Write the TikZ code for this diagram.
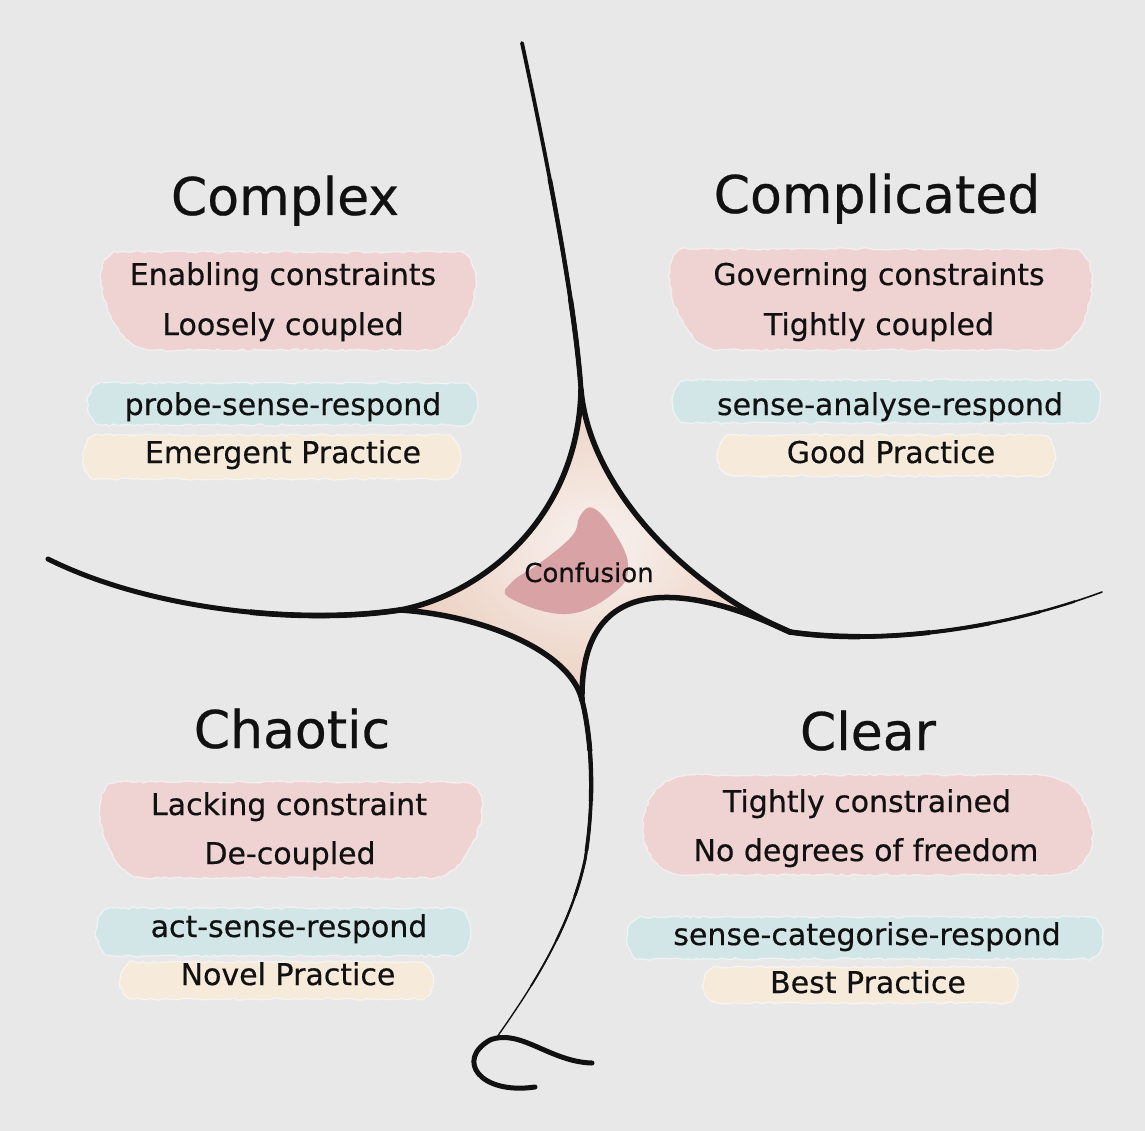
\documentclass[tikz,border=0pt]{standalone}
\usepackage{fontspec}
\setmainfont{DejaVu Sans}
\newfontfamily\handfont{DejaVu Sans}[FakeBold=0.5]
\usetikzlibrary{decorations.pathmorphing}
\definecolor{bgc}{HTML}{E8E8E8}
\definecolor{pinkc}{HTML}{EFD2D2}
\definecolor{bluec}{HTML}{D2E6E8}
\definecolor{creamc}{HTML}{F6EADB}
\definecolor{confin}{HTML}{F8F2EF}
\definecolor{confout}{HTML}{ECD0C1}
\definecolor{confpink}{HTML}{D9A2A5}
\definecolor{inkc}{HTML}{111111}
\newcommand\myblob[8]{%
  \path[brushfill, fill=#1] (#2,#6) -- (#3,#6) .. controls ({#3+#8},#6) and ({#5+#8},#7) .. (#5,#7) -- (#4,#7) .. controls ({#4-#8},#7) and ({#2-#8},#6) .. cycle;}
\begin{document}
\begin{tikzpicture}[x=1pt,y=-1pt,
  ink/.style={line width=#1, line cap=round, line join=round, draw=inkc},
  brushfill/.style={decorate, decoration={random steps, segment length=4pt, amplitude=1.1pt}, draw=white, draw opacity=0.5, line width=1.3pt},
  titletext/.style={font=\handfont\fontsize{52}{60}\selectfont, text=inkc, anchor=base, inner sep=0pt},
  bodytext/.style={font=\handfont\fontsize{30}{36}\selectfont, text=inkc, anchor=base, inner sep=0pt},
  conftext/.style={font=\handfont\fontsize{26}{30}\selectfont, text=inkc, anchor=base, inner sep=0pt}]
\pgfmathsetseed{7}
\fill[bgc] (0,0) rectangle (1145,1131);
\useasboundingbox (0,0) rectangle (1145,1131);

% ---------- brush highlights ----------
% Complex
\myblob{pinkc}{120}{455}{150}{430}{252}{350}{40}
\myblob{bluec}{103}{462}{103}{462}{383}{425}{20}
\myblob{creamc}{98}{445}{98}{445}{435}{479}{20}
% Complicated
\myblob{pinkc}{688}{1070}{718}{1050}{249}{350}{40}
\myblob{bluec}{688}{1085}{688}{1085}{380}{423}{20}
\myblob{creamc}{733}{1040}{733}{1040}{435}{476}{20}
% Chaotic
\myblob{pinkc}{120}{463}{144}{433}{782}{878}{40}
\myblob{bluec}{113}{454}{113}{454}{908}{956}{22}
\myblob{creamc}{135}{418}{135}{418}{962}{999}{20}
% Clear
\myblob{pinkc}{690}{1040}{686}{1054}{775}{875}{60}
\myblob{bluec}{642}{1088}{642}{1088}{917}{959}{20}
\myblob{creamc}{718}{1003}{718}{1003}{967}{1003}{20}

% ---------- confusion region ----------
\shade[inner color=confin, outer color=confout]
  (581,390) .. controls (590,490) and (690,590) .. (790,632)
  .. controls (680,580) and (580,575) .. (582,700)
  .. controls (570,650) and (480,615) .. (400,610)
  .. controls (480,595) and (578,520) .. (581,390) -- cycle;
\fill[confpink] plot[smooth cycle, tension=0.7] coordinates
  {(593,508) (613,530) (628,565) (615,592) (567,614) (510,598) (512,582) (540,563) (572,536) (580,516)};

% boundary curves
\draw[ink=5.5] (581,390) .. controls (590,490) and (690,590) .. (790,632);
\draw[ink=5.5] (790,632) .. controls (680,580) and (580,575) .. (582,700);
\draw[ink=5.5] (582,700) .. controls (570,650) and (480,615) .. (400,610);
\draw[ink=5.5] (400,610) .. controls (480,595) and (578,520) .. (581,390);

% top line
\draw[ink=3.8] (522,43) .. controls (545,150) and (575,300) .. (581,390);
\begin{scope}
  \clip (0,180) rectangle (1145,400);
  \draw[ink=4.4] (522,43) .. controls (545,150) and (575,300) .. (581,390);
\end{scope}
\begin{scope}
  \clip (0,300) rectangle (1145,400);
  \draw[ink=5] (522,43) .. controls (545,150) and (575,300) .. (581,390);
\end{scope}
% left line
\draw[ink=5] (48,559) .. controls (150,610) and (300,625) .. (400,610);
\begin{scope}
  \clip (250,0) rectangle (420,1131);
  \draw[ink=5.6] (48,559) .. controls (150,610) and (300,625) .. (400,610);
\end{scope}
% right line
\draw[ink=1.6] (790,632) .. controls (880,645) and (1000,630) .. (1102,592);
\begin{scope}
  \clip (700,0) rectangle (1075,1131);
  \draw[ink=2.4] (790,632) .. controls (880,645) and (1000,630) .. (1102,592);
\end{scope}
\begin{scope}
  \clip (700,0) rectangle (1040,1131);
  \draw[ink=3.2] (790,632) .. controls (880,645) and (1000,630) .. (1102,592);
\end{scope}
\begin{scope}
  \clip (700,0) rectangle (990,1131);
  \draw[ink=4] (790,632) .. controls (880,645) and (1000,630) .. (1102,592);
\end{scope}
\begin{scope}
  \clip (700,0) rectangle (930,1131);
  \draw[ink=4.8] (790,632) .. controls (880,645) and (1000,630) .. (1102,592);
\end{scope}
\begin{scope}
  \clip (700,0) rectangle (860,1131);
  \draw[ink=5.5] (790,632) .. controls (880,645) and (1000,630) .. (1102,592);
\end{scope}
% bottom line
\draw[ink=1.4] (582,700) .. controls (592,740) and (595,800) .. (585,860) .. controls (570,930) and (530,990) .. (497,1037);
\begin{scope}
  \clip (0,690) rectangle (1145,985);
  \draw[ink=1.8] (582,700) .. controls (592,740) and (595,800) .. (585,860) .. controls (570,930) and (530,990) .. (497,1037);
\end{scope}
\begin{scope}
  \clip (0,690) rectangle (1145,940);
  \draw[ink=2.3] (582,700) .. controls (592,740) and (595,800) .. (585,860) .. controls (570,930) and (530,990) .. (497,1037);
\end{scope}
\begin{scope}
  \clip (0,690) rectangle (1145,895);
  \draw[ink=2.9] (582,700) .. controls (592,740) and (595,800) .. (585,860) .. controls (570,930) and (530,990) .. (497,1037);
\end{scope}
\begin{scope}
  \clip (0,690) rectangle (1145,850);
  \draw[ink=3.6] (582,700) .. controls (592,740) and (595,800) .. (585,860) .. controls (570,930) and (530,990) .. (497,1037);
\end{scope}
\begin{scope}
  \clip (0,690) rectangle (1145,800);
  \draw[ink=4.3] (582,700) .. controls (592,740) and (595,800) .. (585,860) .. controls (570,930) and (530,990) .. (497,1037);
\end{scope}
\begin{scope}
  \clip (0,690) rectangle (1145,750);
  \draw[ink=5] (582,700) .. controls (592,740) and (595,800) .. (585,860) .. controls (570,930) and (530,990) .. (497,1037);
\end{scope}
% curl
\draw[ink=5] (535,1087) .. controls (480,1095) and (455,1060) .. (490,1040) .. controls (520,1028) and (550,1062) .. (592,1063);

% ---------- texts ----------
\node[titletext] (complex) at (285,215) {Complex};
\node[titletext] (complicated) at (877,213) {Complicated};
\node[titletext] (chaotic) at (292,748) {Chaotic};
\node[titletext] (clear) at (868,750) {Clear};

\node[bodytext] (cx1) at (283,285) {Enabling constraints};
\node[bodytext] (cx2) at (283,335) {Loosely coupled};
\node[bodytext] (cx3) at (283,415) {probe-sense-respond};
\node[bodytext] (cx4) at (283,463) {Emergent Practice};

\node[bodytext] (cd1) at (879,285) {Governing constraints};
\node[bodytext] (cd2) at (879,335) {Tightly coupled};
\node[bodytext] (cd3) at (890,415) {sense-analyse-respond};
\node[bodytext] (cd4) at (891,463) {Good Practice};

\node[bodytext] (ch1) at (289,815) {Lacking constraint};
\node[bodytext] (ch2) at (290,864) {De-coupled};
\node[bodytext] (ch3) at (289,937) {act-sense-respond};
\node[bodytext] (ch4) at (288,985) {Novel Practice};

\node[bodytext] (cl1) at (867,812) {Tightly constrained};
\node[bodytext] (cl2) at (866,861) {No degrees of freedom};
\node[bodytext] (cl3) at (867,945) {sense-categorise-respond};
\node[bodytext] (cl4) at (868,993) {Best Practice};

\node[conftext] (confusion) at (589,582) {Confusion};
\end{tikzpicture}
\end{document}
